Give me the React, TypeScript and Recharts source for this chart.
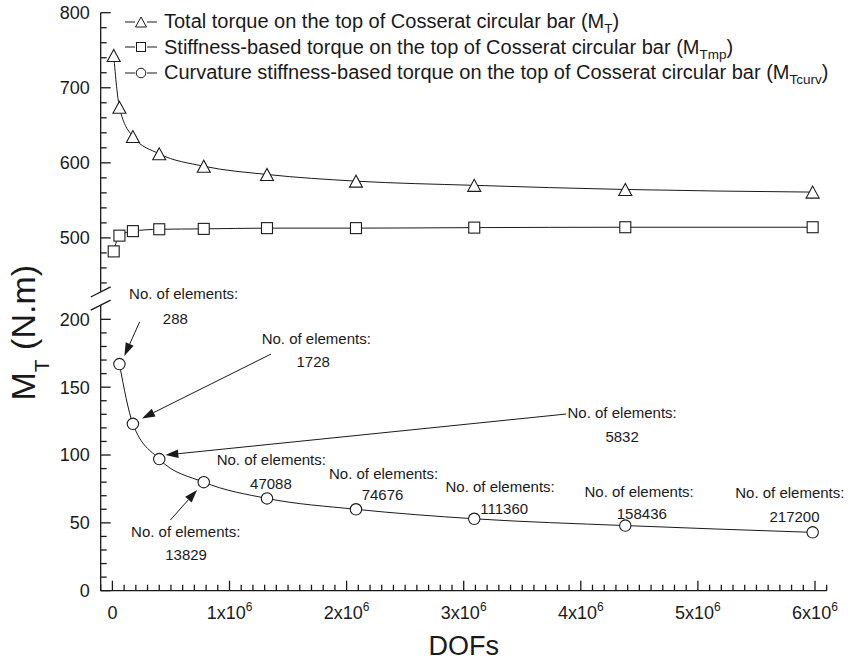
import React from 'react';
import { ComposedChart, Line, XAxis, YAxis, ReferenceLine, ReferenceDot, Legend } from 'recharts';

// ---------------- data ----------------
const dofs = [11000, 60000, 175000, 400000, 780000, 1320000, 2080000, 3090000, 4380000, 5980000];
const totalTorque = [743, 674, 635, 612, 595.5, 584.5, 575.6, 570, 564.5, 561];
const stiffnessTorque = [482, 503, 509, 511.5, 512, 513, 513, 513.7, 514.2, 514.2];
const curvatureTorque: (number | null)[] = [null, 167, 123, 97, 80, 68, 60, 53, 48, 43];

const elementCounts = ['288', '1728', '5832', '13829', '47088', '74676', '111360', '158436', '217200'];

const xMajorTicks = [0, 1e6, 2e6, 3e6, 4e6, 5e6, 6e6];
const upperMajorTicks = [500, 600, 700, 800];
const lowerMajorTicks = [0, 50, 100, 150, 200];

const legendItems = [
  { key: 'total', text: 'Total torque on the top of Cosserat circular bar (M', sub: 'T' },
  { key: 'stiff', text: 'Stiffness-based torque on the top of Cosserat circular bar (M', sub: 'Tmp' },
  { key: 'curv', text: 'Curvature stiffness-based torque on the top of Cosserat circular bar (M', sub: 'Tcurv' },
];

// ---------------- layout (data coordinates on the lower axis) ----------------
const annotationLayout = [
  { title: [608500, 218.6], num: [537700, 200.7], arrow: [[233000, 198.2], [102000, 173.0]] },
  { title: [1741000, 186.0], num: [1715000, 168.8], arrow: [[1354000, 174.4], [253000, 127.0]] },
  { title: [4353000, 130.9], num: [4353000, 113.3], arrow: [[3875000, 130.2], [452000, 100.0]] },
  { title: [626000, 43.5], num: [629000, 26.3], arrow: [[495000, 52.1], [723000, 74.2]] },
  { title: [1357000, 96.3], num: [1354000, 79.1], arrow: null },
  { title: [2316000, 86.5], num: [2307000, 70.5], arrow: null },
  { title: [3311000, 76.6], num: [3346000, 60.7], arrow: null },
  { title: [4498000, 73.0], num: [4521000, 56.5], arrow: null },
  { title: [5785000, 71.8], num: [5825000, 54.5], arrow: null },
];

const X_DOMAIN: [number, number] = [-1e5, 6.1e6];
const UPPER_DOMAIN: [number, number] = [30, 800];
const LOWER_DOMAIN: [number, number] = [0, 426];

const xTicks = Array.from({ length: 63 }, (_, i) => (i - 1) * 1e5);
const upperTicks = Array.from({ length: 19 }, (_, i) => 440 + i * 20);
const lowerTicks = Array.from({ length: 21 }, (_, i) => i * 10);

const rows = dofs.map((d, i) => ({
  dof: d,
  total: totalTorque[i],
  stiff: stiffnessTorque[i],
  curv: curvatureTorque[i],
}));

const FONT = '"Liberation Sans", Arial, Helvetica, sans-serif';
const INK = '#1a1a1a';
const AXIS_X = 100.7; // pixel x of the y axis line (plot left edge)

// ---------------- markers ----------------
const TriangleDot = (props: any) => {
  const { cx, cy, index } = props;
  if (cx == null || cy == null) return <g key={`t${index}`} />;
  const w = 6.5, h = 6;
  return (
    <polygon key={`t${index}`} points={`${cx},${cy - h} ${cx - w},${cy + h} ${cx + w},${cy + h}`}
      fill="#fff" stroke={INK} strokeWidth={1.1} />
  );
};
const SquareDot = (props: any) => {
  const { cx, cy, index } = props;
  if (cx == null || cy == null) return <g key={`s${index}`} />;
  const s = 5.5;
  return <rect key={`s${index}`} x={cx - s} y={cy - s} width={2 * s} height={2 * s} fill="#fff" stroke={INK} strokeWidth={1.1} />;
};
const CircleDot = (props: any) => {
  const { cx, cy, index, value } = props;
  if (cx == null || cy == null || value == null) return <g key={`c${index}`} />;
  return <circle key={`c${index}`} cx={cx} cy={cy} r={5.7} fill="#fff" stroke={INK} strokeWidth={1.1} />;
};

// ---------------- ticks ----------------
const makeYTick = (majors: number[]) => (props: any) => {
  const { y, payload } = props;
  const x = AXIS_X;
  const v = payload.value;
  const major = majors.includes(v);
  return (
    <g>
      <line x1={x} y1={y} x2={x + (major ? 10 : 6)} y2={y} stroke={INK} strokeWidth={1.3} />
      {major && (
        <text x={x - 11} y={y + 6.4} textAnchor="end" fontSize={18} fontFamily={FONT} fill={INK}>{v}</text>
      )}
    </g>
  );
};

const XTick = (props: any) => {
  const { x, y, payload } = props;
  const v = payload.value;
  const major = xMajorTicks.includes(v);
  return (
    <g>
      <line x1={x} y1={y} x2={x} y2={y - (major ? 10 : 6)} stroke={INK} strokeWidth={1.3} />
      {major && (v === 0 ? (
        <text x={x} y={y + 28} textAnchor="middle" fontSize={18} fontFamily={FONT} fill={INK}>0</text>
      ) : (
        <text x={x} y={y + 28} textAnchor="middle" fontSize={18} fontFamily={FONT} fill={INK}>
          <tspan>{`${v / 1e6}x10`}</tspan>
          <tspan dy={-8} fontSize={12}>6</tspan>
        </text>
      ))}
    </g>
  );
};

// ---------------- shapes ----------------
const ArrowShape = (props: any) => {
  const { x1, y1, x2, y2 } = props;
  const ang = Math.atan2(y2 - y1, x2 - x1);
  const L = 13, W = 4.3;
  const bx = x2 - L * Math.cos(ang), by = y2 - L * Math.sin(ang);
  const px = -Math.sin(ang) * W, py = Math.cos(ang) * W;
  return (
    <g>
      <line x1={x1} y1={y1} x2={bx} y2={by} stroke={INK} strokeWidth={1} />
      <polygon points={`${x2},${y2} ${bx + px},${by + py} ${bx - px},${by - py}`} fill={INK} />
    </g>
  );
};

const textShape = (txt: string) => (props: any) => (
  <text x={props.cx} y={props.cy + 5.2} textAnchor="middle" fontSize={15} fontFamily={FONT} fill={INK}>{txt}</text>
);

const XTitle = (props: any) => {
  const vb = props.viewBox || { x: 100.7, y: 590.7, width: 726, height: 72.3 };
  return (
    <text x={vb.x + vb.width / 2} y={vb.y + 64} textAnchor="middle" fontSize={27} fontFamily={FONT} fill={INK}>DOFs</text>
  );
};

const YTitle = (props: any) => {
  const vb = props.viewBox || { x: 0, y: 12.7, width: 100.7, height: 578 };
  const bx = vb.x + 35;
  const by = vb.y + 320;
  return (
    <text transform={`translate(${bx},${by}) rotate(-90)`} textAnchor="middle" fontSize={34} fontFamily={FONT} fill={INK}>
      <tspan>M</tspan>
      <tspan fontSize={21} dy={14}>T</tspan>
      <tspan dy={-14}> (N.m)</tspan>
    </text>
  );
};

const LegendBox = () => (
  <div style={{ fontFamily: FONT, fontSize: 20, color: INK }}>
    {legendItems.map((it) => (
      <div key={it.key} style={{ display: 'flex', alignItems: 'center', height: 25.5 }}>
        <svg width={32} height={16} style={{ flex: 'none' }}>
          <line x1={0} x2={10} y1={8} y2={8} stroke={INK} strokeWidth={1} />
          <line x1={22} x2={32} y1={8} y2={8} stroke={INK} strokeWidth={1} />
          {it.key === 'total' && <polygon points="16,3 10.5,13 21.5,13" fill="#fff" stroke={INK} strokeWidth={1} />}
          {it.key === 'stiff' && <rect x={11.5} y={3.5} width={9} height={9} fill="#fff" stroke={INK} strokeWidth={1} />}
          {it.key === 'curv' && <circle cx={16} cy={8} r={4.8} fill="#fff" stroke={INK} strokeWidth={1} />}
        </svg>
        <span style={{ marginLeft: 7, whiteSpace: 'nowrap' }}>
          {it.text}
          <span style={{ fontSize: 13.5, position: 'relative', top: 5 }}>{it.sub}</span>)
        </span>
      </div>
    ))}
  </div>
);

export default function App() {
  return (
    <div style={{ position: 'absolute', left: 0, top: 0, width: 848, height: 663, background: '#fff' }}>
      <ComposedChart width={848} height={663} data={rows} margin={{ top: 12.7, right: 21.3, bottom: 0, left: 0 }}>
        <XAxis dataKey="dof" type="number" domain={X_DOMAIN} ticks={xTicks} interval={0} allowDataOverflow
          tick={XTick} tickLine={false} tickSize={0} tickMargin={0} height={72.3}
          axisLine={{ stroke: INK, strokeWidth: 1.3 }} label={<XTitle />} />
        <YAxis yAxisId="upper" orientation="left" width={100.7} type="number" domain={UPPER_DOMAIN}
          ticks={upperTicks} interval={0} allowDataOverflow tick={makeYTick(upperMajorTicks)}
          axisLine={false} tickLine={false} tickSize={0} tickMargin={0} label={<YTitle />} />
        <YAxis yAxisId="lower" orientation="left" mirror width={60} type="number" domain={LOWER_DOMAIN}
          ticks={lowerTicks} interval={0} allowDataOverflow tick={makeYTick(lowerMajorTicks)}
          axisLine={false} tickLine={false} tickSize={0} tickMargin={0} />

        {/* broken y axis lines */}
        <ReferenceLine yAxisId="upper" ifOverflow="visible" stroke={INK} strokeWidth={1.3}
          segment={[{ x: -1e5, y: 428 }, { x: -1e5, y: 800 }]} />
        <ReferenceLine yAxisId="lower" ifOverflow="visible" stroke={INK} strokeWidth={1.3}
          segment={[{ x: -1e5, y: 0 }, { x: -1e5, y: 210.5 }]} />
        <ReferenceLine yAxisId="upper" ifOverflow="visible" stroke={INK} strokeWidth={1.3}
          segment={[{ x: -185000, y: 421.3 }, { x: -15000, y: 434.7 }]} />
        <ReferenceLine yAxisId="lower" ifOverflow="visible" stroke={INK} strokeWidth={1.3}
          segment={[{ x: -185000, y: 206.8 }, { x: -15000, y: 214.2 }]} />

        <Line yAxisId="upper" dataKey="total" type="monotone" stroke={INK} strokeWidth={1}
          dot={TriangleDot} activeDot={false} isAnimationActive={false} />
        <Line yAxisId="upper" dataKey="stiff" type="monotone" stroke={INK} strokeWidth={1}
          dot={SquareDot} activeDot={false} isAnimationActive={false} />
        <Line yAxisId="lower" dataKey="curv" type="monotone" stroke={INK} strokeWidth={1}
          dot={CircleDot} activeDot={false} isAnimationActive={false} />

        {annotationLayout.map((a, i) => a.arrow ? (
          <ReferenceLine key={`ar${i}`} yAxisId="lower" ifOverflow="visible"
            segment={[{ x: a.arrow[0][0], y: a.arrow[0][1] }, { x: a.arrow[1][0], y: a.arrow[1][1] }]}
            shape={ArrowShape} />
        ) : null)}
        {annotationLayout.map((a, i) => (
          <ReferenceDot key={`tt${i}`} yAxisId="lower" x={a.title[0]} y={a.title[1]} r={0} ifOverflow="visible"
            shape={textShape('No. of elements:')} />
        ))}
        {annotationLayout.map((a, i) => (
          <ReferenceDot key={`nn${i}`} yAxisId="lower" x={a.num[0]} y={a.num[1]} r={0} ifOverflow="visible"
            shape={textShape(elementCounts[i])} />
        ))}

        <Legend layout="horizontal" verticalAlign="middle" align="center"
          wrapperStyle={{ left: 125, top: 9, width: 715, height: 80 }}
          content={() => <LegendBox />} />
      </ComposedChart>
    </div>
  );
}
